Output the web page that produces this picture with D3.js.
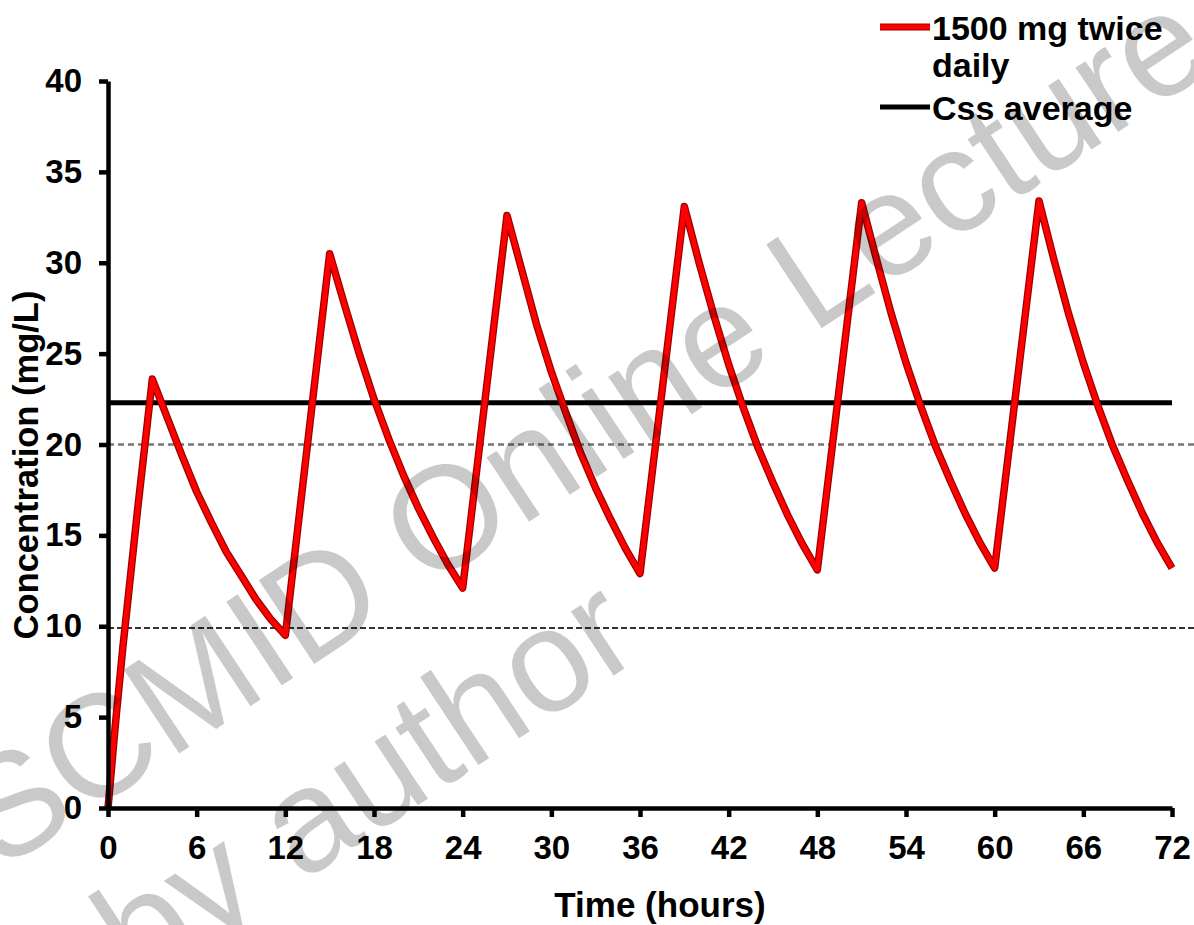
<!DOCTYPE html>
<html>
<head>
<meta charset="utf-8">
<script src="https://cdn.jsdelivr.net/npm/d3@7"></script>
<style>
  html, body { margin: 0; padding: 0; background: #fff; }
  svg { display: block; }
  text { font-family: "Liberation Sans", Arial, sans-serif; }
</style>
</head>
<body>
<svg id="chart" width="1194" height="925"></svg>
<script>
// ---- data ----
const hours = [0, 0.5, 1, 2, 3, 4, 5, 6, 7, 8, 9, 10, 11, 12,
  15, 16, 17, 18, 19, 20, 21, 22, 23, 24,
  27, 28, 29, 30, 31, 32, 33, 34, 35, 36,
  39, 40, 41, 42, 43, 44, 45, 46, 47, 48,
  51, 52, 53, 54, 55, 56, 57, 58, 59, 60,
  63, 64, 65, 66, 67, 68, 69, 70, 71, 72];
const concentration = [0, 4.6, 8.8, 16.4, 23.6, 21.5, 19.4, 17.4, 15.7, 14.1, 12.8, 11.5, 10.4, 9.5,
  30.5, 27.7, 25.0, 22.5, 20.3, 18.3, 16.5, 14.9, 13.4, 12.1,
  32.6, 29.6, 26.6, 24.0, 21.7, 19.5, 17.6, 15.9, 14.3, 12.9,
  33.1, 30.0, 27.1, 24.4, 22.0, 19.8, 17.9, 16.1, 14.5, 13.1,
  33.3, 30.2, 27.2, 24.5, 22.1, 19.9, 18.0, 16.2, 14.6, 13.2,
  33.4, 30.2, 27.2, 24.5, 22.1, 19.9, 18.0, 16.2, 14.6, 13.2];
const cssAverage = 22.3;
const upperThreshold = 20;
const lowerThreshold = 9.9;
const xTicks = [0, 6, 12, 18, 24, 30, 36, 42, 48, 54, 60, 66, 72];
const yTicks = [0, 5, 10, 15, 20, 25, 30, 35, 40];
const seriesNames = ["1500 mg twice", "daily", "Css average"];
const xTitle = "Time (hours)";
const yTitle = "Concentration (mg/L)";
const watermarkLines = ["SCMID Online Lecture", "by author"];

// ---- layout ----
const svg = d3.select("#chart");
const x = d3.scaleLinear().domain([0, 72]).range([108, 1172]);
const y = d3.scaleLinear().domain([0, 40]).range([808, 81]);

// threshold dashed lines
svg.append("line")
  .attr("x1", x(0)).attr("x2", 1194)
  .attr("y1", y(upperThreshold)).attr("y2", y(upperThreshold))
  .attr("stroke", "#777").attr("stroke-width", 2.5).attr("stroke-dasharray", "6,4");
svg.append("line")
  .attr("x1", x(0)).attr("x2", 1194)
  .attr("y1", y(lowerThreshold)).attr("y2", y(lowerThreshold))
  .attr("stroke", "#333").attr("stroke-width", 2).attr("stroke-dasharray", "6,3");

// Css average line
svg.append("line")
  .attr("x1", x(0)).attr("x2", x(72))
  .attr("y1", y(cssAverage)).attr("y2", y(cssAverage))
  .attr("stroke", "#000").attr("stroke-width", 5);

// concentration line
const pts = hours.map((h, i) => [h, concentration[i]]);
const line = d3.line().x(d => x(d[0])).y(d => y(d[1]));
svg.append("path").datum(pts).attr("d", line)
  .attr("fill", "none").attr("stroke", "#9a0000").attr("stroke-width", 7.5)
  .attr("stroke-linejoin", "round");
svg.append("path").datum(pts).attr("d", line)
  .attr("fill", "none").attr("stroke", "#ff0000").attr("stroke-width", 5)
  .attr("stroke-linejoin", "round");

// axes
const yAxis = svg.append("g").attr("transform", `translate(${x(0)},0)`)
  .call(d3.axisLeft(y).tickValues(yTicks).tickSize(9).tickSizeOuter(0).tickPadding(17));
const xAxis = svg.append("g").attr("transform", `translate(0,${y(0)})`)
  .call(d3.axisBottom(x).tickValues(xTicks).tickSize(9).tickSizeOuter(0).tickPadding(19));
[yAxis, xAxis].forEach(g => {
  g.select(".domain").attr("stroke", "#000").attr("stroke-width", 4.5);
  g.selectAll(".tick line").attr("stroke", "#000").attr("stroke-width", 4.5);
  g.selectAll(".tick text").attr("fill", "#000")
    .style("font-family", "'Liberation Sans', Arial, sans-serif")
    .style("font-size", "33px").style("font-weight", "bold");
});
svg.append("rect").attr("x", x(0) - 2.25).attr("y", y(0) - 2.25).attr("width", 4.5).attr("height", 4.5).attr("fill", "#000");

// axis titles
svg.append("text").attr("x", 660).attr("y", 917).attr("text-anchor", "middle")
  .style("font-size", "35px").style("font-weight", "bold").text(xTitle);
svg.append("text").attr("transform", "translate(38,465) rotate(-90)").attr("text-anchor", "middle")
  .style("font-size", "34.5px").style("font-weight", "bold").text(yTitle);

// legend
const lg = svg.append("g");
lg.append("line").attr("x1", 880).attr("x2", 930).attr("y1", 27).attr("y2", 27)
  .attr("stroke", "#9a0000").attr("stroke-width", 7);
lg.append("line").attr("x1", 880).attr("x2", 930).attr("y1", 27).attr("y2", 27)
  .attr("stroke", "#ff0000").attr("stroke-width", 5);
lg.append("text").attr("x", 932).attr("y", 40).style("font-size", "34px").style("font-weight", "bold").text(seriesNames[0]);
lg.append("text").attr("x", 932).attr("y", 77).style("font-size", "34px").style("font-weight", "bold").text(seriesNames[1]);
lg.append("line").attr("x1", 880).attr("x2", 930).attr("y1", 107).attr("y2", 107)
  .attr("stroke", "#000").attr("stroke-width", 5);
lg.append("text").attr("x", 932).attr("y", 120).style("font-size", "34px").style("font-weight", "bold").text(seriesNames[2]);

// watermark
const wm = svg.append("g").attr("transform", "translate(0,872) rotate(-33.5)")
  .attr("fill", "#000").attr("fill-opacity", 0.21).style("pointer-events", "none");
wm.append("text").attr("x", 0).attr("y", 0).style("font-size", "146px").text(watermarkLines[0]);
wm.append("text").attr("x", 50).attr("y", 175).style("font-size", "146px").text(watermarkLines[1]);
</script>
</body>
</html>
